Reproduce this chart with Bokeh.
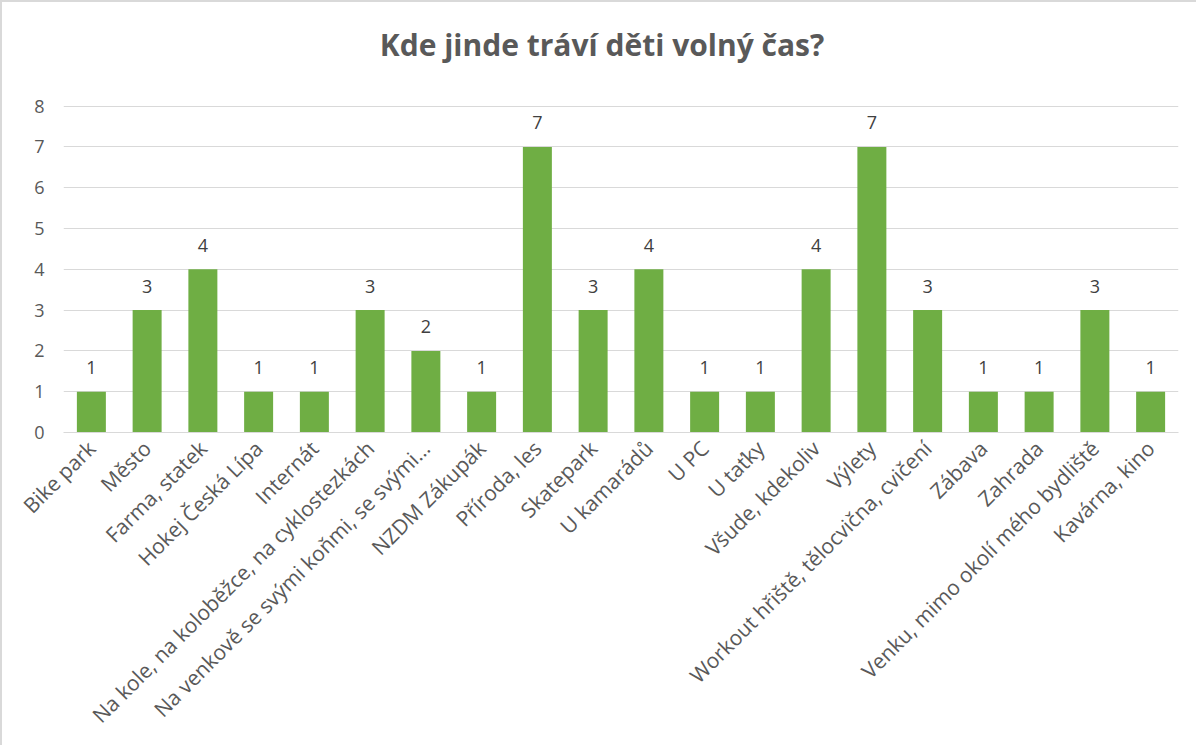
import math
from bokeh.plotting import figure
from bokeh.models import ColumnDataSource, FactorRange, Range1d, FixedTicker
from bokeh.core.properties import value
from bokeh.embed import file_html
from bokeh.resources import INLINE

categories = [
    "Bike park", "Město", "Farma, statek", "Hokej Česká Lípa", "Internát",
    "Na kole, na koloběžce, na cyklostezkách",
    "Na venkově se svými koňmi, se svými…",
    "NZDM Zákupák", "Příroda, les", "Skatepark", "U kamarádů", "U PC",
    "U taťky", "Všude, kdekoliv", "Výlety",
    "Workout hřiště, tělocvična, cvičení", "Zábava", "Zahrada",
    "Venku, mimo okolí mého bydliště", "Kavárna, kino",
]
counts = [1, 3, 4, 1, 1, 3, 2, 1, 7, 3, 4, 1, 1, 4, 7, 3, 1, 1, 3, 1]
title_text = "Kde jinde tráví děti volný čas?"
y_ticks = [0, 1, 2, 3, 4, 5, 6, 7, 8]

FONT = "Open Sans"
GRAY = "#595959"

src = ColumnDataSource(dict(cat=categories, val=counts, lbl=[str(v) for v in counts]))

# y range extends above 8 to leave room for the title inside the plot frame
p = figure(
    x_range=FactorRange(factors=categories, range_padding=0),
    y_range=Range1d(0, 10),
    width=1196, height=745,
    output_backend="svg", toolbar_location=None,
    min_border_left=61, min_border_right=20, min_border_top=22, min_border_bottom=315,
)
p.styles = {"border-top": "2px solid #d9d9d9", "border-left": "2px solid #d9d9d9"}
p.outline_line_color = None
p.background_fill_color = "white"
p.border_fill_color = "white"

p.vbar(x="cat", top="val", width=0.52, source=src,
       fill_color="#6fae44", line_color=None)

p.text(x="cat", y="val", text="lbl", source=src,
       text_align="center", text_baseline="alphabetic", y_offset=-24,
       text_font=value(FONT), text_font_size="18px", text_color="#404040")

# chart title
p.text(x=[9.66], y=[9.5], text=[title_text],
       text_align="center", text_baseline="middle",
       text_font=value(FONT), text_font_size="30px", text_font_style="bold",
       text_color=GRAY)

p.xgrid.grid_line_color = None
p.ygrid.grid_line_color = "#d9d9d9"
p.ygrid.grid_line_width = 1
p.yaxis.ticker = FixedTicker(ticks=y_ticks)

p.yaxis.axis_line_color = None
p.yaxis.major_tick_line_color = None
p.yaxis.minor_tick_line_color = None
p.yaxis.major_label_standoff = 13
p.yaxis.major_label_text_font = FONT
p.yaxis.major_label_text_font_size = "18px"
p.yaxis.major_label_text_color = GRAY

p.xaxis.axis_line_color = "#d9d9d9"
p.xaxis.major_tick_line_color = None
p.xaxis.minor_tick_line_color = None
p.xaxis.major_label_orientation = math.pi / 4
p.xaxis.major_label_standoff = 6
p.xaxis.major_label_text_font = FONT
p.xaxis.major_label_text_font_size = "21px"
p.xaxis.major_label_text_color = GRAY

open("out.html", "w").write(file_html(p, INLINE))
